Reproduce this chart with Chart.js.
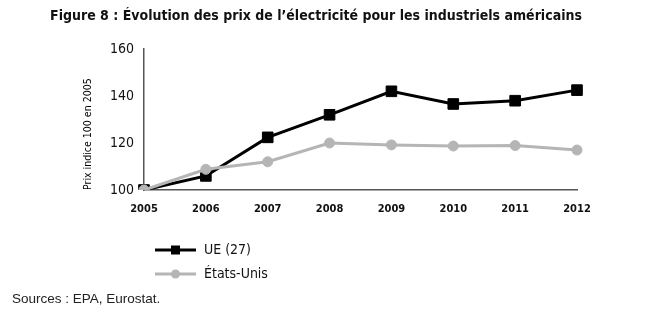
<!DOCTYPE html>
<html>
  <head>
    <title>Prix de l'électricité</title>
    <script src="https://cdn.jsdelivr.net/npm/chart.js"></script>
    <style>
      body { margin: 0; background: #fff; }
      #wrap { position: relative; width: 655px; height: 322px; }
      #title {
        position: absolute; left: 0; width: 632px; top: 7px; text-align: center;
        font: bold 14px "DejaVu Sans Condensed", sans-serif;
        color: #111;
      }
      #src {
        position: absolute; left: 12px; top: 291px;
        font: 13.5px "Liberation Sans", Arial, sans-serif; color: #222;
      }
    </style>
  </head>
  <body>
    <div id="wrap">
      <canvas id="prixChart" width="655" height="322"></canvas>
      <div id="title">Figure 8 : Évolution des prix de l’électricité pour les industriels américains</div>
      <div id="src">Sources : EPA, Eurostat.</div>
    </div>

    <script>
      const years = ['2005', '2006', '2007', '2008', '2009', '2010', '2011', '2012'];
      const ue27 = [100, 106, 122.4, 132, 142, 136.6, 138, 142.5];
      const etatsUnis = [100, 108.8, 112, 120, 119.2, 118.7, 118.9, 117];
      const yTicks = [100, 120, 140, 160];

      const narrow = '"DejaVu Sans Condensed", sans-serif';

      // legend below the plot: a short line with its marker, then the label
      const lineLegend = {
        id: 'lineLegend',
        afterDraw(chart) {
          const ctx = chart.ctx;
          const rows = [250, 274];
          chart.data.datasets.forEach((ds, i) => {
            const y = rows[i];
            ctx.save();
            ctx.strokeStyle = ds.borderColor;
            ctx.lineWidth = 3;
            ctx.beginPath();
            ctx.moveTo(155, y);
            ctx.lineTo(196, y);
            ctx.stroke();
            ctx.fillStyle = ds.pointBackgroundColor;
            if (ds.pointStyle === 'rect') {
              ctx.fillRect(171, y - 4.5, 9, 9);
            } else {
              ctx.beginPath();
              ctx.arc(175.5, y, 4.5, 0, Math.PI * 2);
              ctx.fill();
            }
            ctx.fillStyle = '#111';
            ctx.font = '14px ' + narrow;
            ctx.textBaseline = 'middle';
            ctx.fillText(ds.label, 204, y);
            ctx.restore();
          });
        }
      };

      new Chart(document.getElementById('prixChart'), {
        type: 'line',
        data: {
          labels: years,
          datasets: [
            {
              label: 'UE (27)',
              data: ue27,
              borderColor: '#000',
              backgroundColor: '#000',
              pointBackgroundColor: '#000',
              pointBorderColor: '#000',
              borderWidth: 3,
              pointBorderWidth: 1,
              pointStyle: 'rect',
              pointRadius: 7.5,
              order: 1
            },
            {
              label: 'États-Unis',
              data: etatsUnis,
              borderColor: '#b5b5b5',
              backgroundColor: '#b5b5b5',
              pointBackgroundColor: '#b5b5b5',
              pointBorderColor: '#b5b5b5',
              borderWidth: 3,
              pointBorderWidth: 1,
              pointStyle: 'circle',
              pointRadius: 5,
              order: 0
            }
          ]
        },
        options: {
          responsive: false,
          animation: false,
          layout: { padding: { left: 0, top: 49, right: 78, bottom: 0 } },
          plugins: {
            legend: { display: false },
            tooltip: { enabled: false }
          },
          scales: {
            x: {
              offset: false,
              grid: { display: false, drawTicks: true, tickLength: 5, color: '#555' },
              border: { color: '#555', width: 1.5 },
              ticks: {
                color: '#111',
                font: { family: narrow, size: 11, weight: 'bold' },
                padding: 8,
                maxRotation: 0
              },
              afterFit(scale) { scale.height = 132; }
            },
            y: {
              min: 100,
              max: 160,
              afterBuildTicks(scale) { scale.ticks = yTicks.map(v => ({ value: v })); },
              grid: { display: false, drawTicks: true, tickLength: 6, color: '#555' },
              border: { color: '#555', width: 1.5 },
              ticks: {
                color: '#111',
                font: { family: narrow, size: 14 },
                padding: 4
              },
              title: {
                display: true,
                text: 'Prix indice 100 en 2005',
                align: 'start',
                color: '#000',
                font: { family: narrow, size: 10.5 },
                padding: { top: 82, bottom: 0 }
              },
              afterFit(scale) { scale.width = 144; }
            }
          }
        },
        plugins: [lineLegend]
      });
    </script>
  </body>
</html>
